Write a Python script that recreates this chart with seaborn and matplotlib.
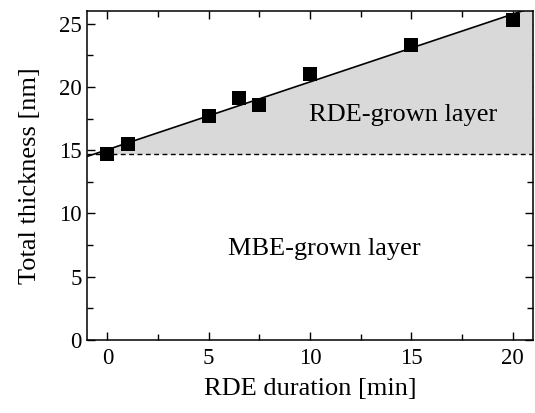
import numpy as np
import pandas as pd
import matplotlib
matplotlib.use("Agg")
import matplotlib.pyplot as plt
from matplotlib.ticker import MultipleLocator
import seaborn as sns

# Measured total thickness vs RDE duration
duration_min = [0, 1, 5, 6.5, 7.5, 10, 15, 20]
thickness_nm = [14.7, 15.5, 17.7, 19.1, 18.6, 21.0, 23.3, 25.3]
mbe_thickness_nm = 14.7

x_ticks = [0, 5, 10, 15, 20]
y_ticks = [0, 5, 10, 15, 20, 25]

df = pd.DataFrame({"duration": duration_min, "thickness": thickness_nm})

sns.set_theme(style="ticks")
plt.rcParams["font.family"] = ["Liberation Serif", "DejaVu Serif"]
plt.rcParams["text.color"] = "black"
plt.rcParams["axes.labelcolor"] = "black"
plt.rcParams["xtick.color"] = "black"
plt.rcParams["ytick.color"] = "black"

fig, ax = plt.subplots(figsize=(5.35, 4.13), dpi=100)
fig.subplots_adjust(left=0.163, right=0.996, top=0.973, bottom=0.177)

xlim = (-1, 21)
ylim = (0, 26)

# Linear fit of the data, used for the line and the shaded RDE layer
slope, intercept = np.polyfit(duration_min, thickness_nm, 1)
xs = np.linspace(xlim[0], xlim[1], 400)
fit = intercept + slope * xs
ax.fill_between(xs, mbe_thickness_nm, fit, where=fit >= mbe_thickness_nm,
                color="#d9d9d9", linewidth=0, zorder=1)

ax.axhline(mbe_thickness_nm, color="black", linestyle=(0, (3.5, 2.5)),
           linewidth=1.0, zorder=2)

sns.regplot(data=df, x="duration", y="thickness", ax=ax, ci=None,
            truncate=False, marker="s",
            scatter_kws=dict(s=95, color="black", alpha=1, zorder=4,
                             linewidths=0),
            line_kws=dict(color="black", linewidth=1.2, zorder=3))

ax.set_xlim(*xlim)
ax.set_ylim(*ylim)
ax.set_xticks(x_ticks)
ax.set_yticks(y_ticks)
ax.xaxis.set_minor_locator(MultipleLocator(2.5))
ax.yaxis.set_minor_locator(MultipleLocator(2.5))
ax.tick_params(which="both", direction="in", top=True, right=True,
               width=1.0, color="black", labelsize=16.5)
ax.tick_params(axis="x", which="both", pad=6)
ax.tick_params(axis="y", which="both", pad=4)
ax.tick_params(which="major", length=6)
ax.tick_params(which="minor", length=4)
for sp in ax.spines.values():
    sp.set_linewidth(1.1)
    sp.set_color("black")

ax.set_xlabel("RDE duration [min]", fontsize=19, labelpad=6)
ax.set_ylabel("Total thickness [nm]", fontsize=19, labelpad=13)

ax.text(14.6, 17.8, "RDE-grown layer", fontsize=19, ha="center", va="center", zorder=5)
ax.text(10.7, 7.2, "MBE-grown layer", fontsize=19, ha="center", va="center", zorder=5)

fig.savefig("out.png", dpi=100)
